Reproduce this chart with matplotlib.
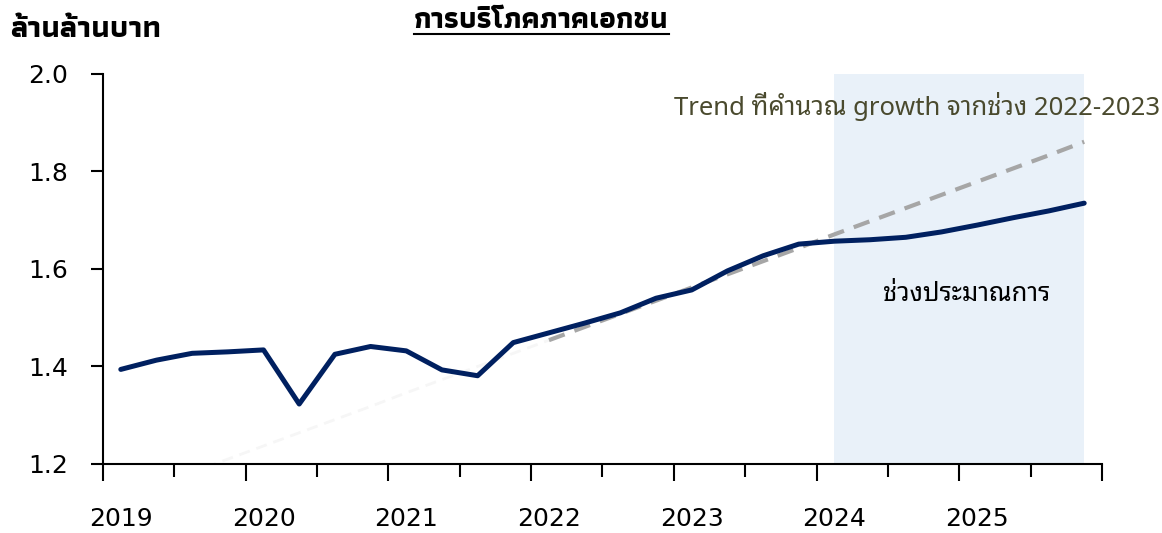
import numpy as np
import matplotlib
matplotlib.use("Agg")
import matplotlib.pyplot as plt
from matplotlib import font_manager

# quarterly series 2019Q1 .. 2025Q4 (ล้านล้านบาท)
quarters = np.arange(28)
year_labels = ["2019", "2020", "2021", "2022", "2023", "2024", "2025"]
consumption = [
    1.394, 1.413, 1.427, 1.430, 1.434, 1.323, 1.425, 1.441,
    1.432, 1.393, 1.381, 1.449, 1.469, 1.489, 1.510, 1.540,
    1.557, 1.596, 1.627, 1.651, 1.657, 1.660, 1.665, 1.676,
    1.690, 1.705, 1.719, 1.735,
]
trend = [
    1.129, 1.156, 1.183, 1.210, 1.237, 1.264, 1.291, 1.318,
    1.346, 1.373, 1.400, 1.427, 1.454, 1.481, 1.508, 1.535,
    1.562, 1.589, 1.616, 1.643, 1.671, 1.698, 1.725, 1.752,
    1.779, 1.806, 1.833, 1.861,
]
forecast_start = 20
forecast_end = 27
trend_start = 12


def pick_family(candidates, need_bold=False, fallback="DejaVu Sans"):
    fonts = font_manager.fontManager.ttflist
    for name in candidates:
        faces = [f for f in fonts if f.name == name]
        if not faces:
            continue
        if need_bold and not any(f.weight in (600, 700, "bold", "semibold") for f in faces):
            continue
        return name
    return fallback


thai_bold = pick_family(["Athiti", "Kanit", "Prompt", "Noto Sans Thai"], need_bold=True)
thai_looped = pick_family(["Noto Sans Thai Looped", "IBM Plex Sans Thai Looped", "Sarabun", "Noto Sans Thai"])
latin = pick_family(["Noto Sans", "Open Sans", "DejaVu Sans"])

fig = plt.figure(figsize=(11.62, 5.33), dpi=100)
ax = fig.add_axes([0.0886, 0.1295, 0.8598, 0.7317])

ax.axvspan(forecast_start, forecast_end, color="#e9f1f9", lw=0, zorder=0)

ax.plot(quarters[:trend_start + 1], trend[:trend_start + 1],
        color="#f6f6f6", lw=2, dashes=(4, 2.5), zorder=1)
ax.plot(quarters[trend_start:], trend[trend_start:],
        color="#a6a6a6", lw=3, dashes=(4, 2.5), zorder=2)
ax.plot(quarters, consumption, color="#002060", lw=3.6,
        solid_joinstyle="round", solid_capstyle="round", zorder=3)

ax.set_xlim(-0.5, 27.5)
ax.set_ylim(1.2, 2.0)
ax.set_yticks([1.2, 1.4, 1.6, 1.8, 2.0])
ax.set_yticklabels(["1.2", "1.4", "1.6", "1.8", "2.0"])

for side in ["top", "right"]:
    ax.spines[side].set_visible(False)
for side in ["left", "bottom"]:
    ax.spines[side].set_linewidth(1.5)
    ax.spines[side].set_color("black")

ax.set_xticks(np.arange(-0.5, 28, 4))
ax.set_xticks(np.arange(1.5, 28, 4), minor=True)
ax.tick_params(axis="x", which="major", length=12, width=1.5, labelbottom=False)
ax.tick_params(axis="x", which="minor", length=9, width=1.5)
ax.tick_params(axis="y", length=9, width=1.5, pad=16, labelsize=18)
for lab in ax.get_yticklabels():
    lab.set_family(["DejaVu Sans"])

sec = ax.secondary_xaxis("bottom")
sec.set_xticks(quarters[::4])
sec.set_xticklabels(year_labels)
sec.tick_params(length=0, pad=31, labelsize=18)
sec.spines["bottom"].set_visible(False)
for lab in sec.get_xticklabels():
    lab.set_family(["DejaVu Sans"])

fig.text(0.009, 0.945, "ล้านล้านบาท", fontsize=22, fontweight="bold",
         family=[thai_bold, "DejaVu Sans"], va="center", ha="left")
title = fig.text(0.466, 0.960, "การบริโภคภาคเอกชน", fontsize=21, fontweight="bold",
                 family=[thai_bold, "DejaVu Sans"], va="center", ha="center")
# underline under the title, same width as the text
fig.canvas.draw()
bb = title.get_window_extent().transformed(fig.transFigure.inverted())
fig.add_artist(plt.Line2D([bb.x0, bb.x1], [0.937, 0.937], color="black", lw=1.5))

fig.text(0.998, 0.80, "Trend ที่คำนวณ growth จากช่วง 2022-2023", fontsize=18.5,
         color="#4a4a2e", family=[latin, thai_looped, "DejaVu Sans"],
         ha="right", va="center")
ax.text(23.7, 1.548, "ช่วงประมาณการ", fontsize=18.5, color="black",
        family=[thai_looped, "DejaVu Sans"], ha="center", va="center")

fig.savefig("out.png", dpi=100)
